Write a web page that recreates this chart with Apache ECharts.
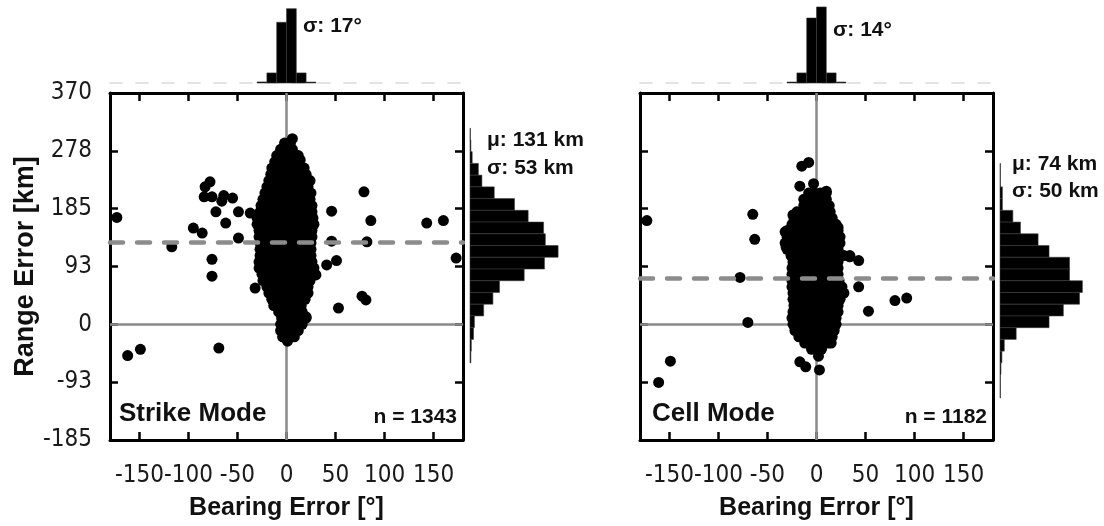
<!DOCTYPE html>
<html>
<head>
<meta charset="utf-8">
<script src="https://cdn.jsdelivr.net/npm/echarts@6/dist/echarts.min.js"></script>
<style>
html,body{margin:0;padding:0;background:#fff;}
#main{width:1104px;height:526px;}
</style>
</head>
<body>
<div id="main"></div>
<script>
// tick values
var bearingTicks = [-150, -100, -50, 0, 50, 100, 150];
var rangeMin = -185, rangeMax = 370, rangeStep = 92.5;
var bearingMin = -180, bearingMax = 180;

// scatter: scattered points [bearing, range]
var strikeOutliers = [
  [-173,171],[-162,-50],[-149,-40],[-69,-38],[-117,124],[-95,154],[-86,146],
  [-83,220],[-78,228],[-84,204],[-76,204],[-72,180],[-66,197],[-64,206],[-55,202],
  [-62,162],[-76,104],[-76,77],[-49,180],[-49,138],[-37,178],[-32,58],[-28,167],
  [46,181],[46,133],[41,95],[51,102],[53,26],[30,79],[20,12],[79,212],[86,166],
  [82,132],[77,45],[81,39],[143,162],[160,166],[173,106],[24,230],[14,263],
  [6,297],[3,290]
];
// dense core, row by row: [range, [bearings]]
var strikeCore = [
  [290,[-2,4]],[280,[-6,0,6]],[270,[-10,-4,2,8,12]],[260,[-12,-6,0,6,12]],
  [250,[-15,-9,-3,3,9,15,18]],[240,[-16,-10,-4,2,8,14,20]],
  [230,[-18,-12,-6,0,6,12,18,23]],[220,[-20,-14,-8,-2,4,10,16,22]],
  [210,[-22,-16,-10,-4,2,8,14,20,25]],[200,[-24,-18,-12,-6,0,6,12,18,24]],
  [190,[-26,-20,-14,-8,-2,4,10,16,22,26]],[180,[-27,-21,-15,-9,-3,3,9,15,21,26]],
  [170,[-30,-24,-18,-12,-6,0,6,12,18,24,27]],[160,[-30,-24,-18,-12,-6,0,6,12,18,24,28]],
  [150,[-28,-22,-16,-10,-4,2,8,14,20,26]],[140,[-28,-22,-16,-10,-4,2,8,14,20,26]],
  [130,[-27,-21,-15,-9,-3,3,9,15,21,25]],[120,[-27,-21,-15,-9,-3,3,9,15,21,25]],
  [110,[-27,-21,-15,-9,-3,3,9,15,21,25]],[100,[-28,-22,-16,-10,-4,2,8,14,20,26]],
  [90,[-28,-22,-16,-10,-4,2,8,14,20,26,28]],[80,[-25,-19,-13,-7,-1,5,11,17,23,29]],
  [70,[-24,-18,-12,-6,0,6,12,18,24]],[60,[-20,-14,-8,-2,4,10,16,22]],
  [50,[-18,-12,-6,0,6,12,18,22]],[40,[-15,-9,-3,3,9,15,19]],
  [30,[-13,-7,-1,5,11,15]],[20,[-8,-2,4,10,16]],[10,[-5,1,7,13,20]],
  [0,[-6,0,6,12,16]],[-10,[-6,0,6,12]],[-20,[-4,2,8]],[-27,[1]]
];
var cellOutliers = [
  [-173,166],[-149,-59],[-161,-93],[-65,176],[-63,136],[-78,75],[-70,3],
  [-24,175],[-32,148],[-31,124],[-17,221],[-15,253],[-8,259],[10,213],[-3,225],
  [22,155],[34,108],[43,102],[43,60],[53,21],[80,38],[92,42],[27,50],
  [3,-73],[-17,-60],[-11,-68],[-5,-38],[5,-38],[2,-51]
];
var cellCore = [
  [210,[-8,-2,4,10]],[200,[-13,-7,-1,5,10]],[190,[-13,-7,-1,5,11,13]],
  [180,[-20,-14,-8,-2,4,10,14]],[170,[-23,-17,-11,-5,1,7,13,16]],
  [160,[-25,-19,-13,-7,-1,5,11,17,20]],[150,[-30,-24,-18,-12,-6,0,6,12,18,22]],
  [140,[-30,-24,-18,-12,-6,0,6,12,18,24]],[130,[-32,-26,-20,-14,-8,-2,4,10,16,22,24]],
  [120,[-30,-24,-18,-12,-6,0,6,12,18,22]],[110,[-26,-20,-14,-8,-2,4,10,16,22,28,34]],
  [100,[-24,-18,-12,-6,0,6,12,18,22]],[90,[-25,-19,-13,-7,-1,5,11,17,22]],
  [80,[-25,-19,-13,-7,-1,5,11,17,22]],[70,[-25,-19,-13,-7,-1,5,11,17,23]],
  [60,[-25,-19,-13,-7,-1,5,11,17,23,26]],[50,[-24,-18,-12,-6,0,6,12,18,24,28]],
  [40,[-24,-18,-12,-6,0,6,12,18,24]],[30,[-23,-17,-11,-5,1,7,13,19,22]],
  [20,[-24,-18,-12,-6,0,6,12,18,22]],[10,[-25,-19,-13,-7,-1,5,11,17,20]],
  [0,[-24,-18,-12,-6,0,6,12,18,20]],[-10,[-22,-16,-10,-4,2,8,14,18]],
  [-20,[-18,-12,-6,0,6,12,16]],[-30,[-12,-6,0,6,12,15]],[-40,[-5,0,5]]
];

// bearing histograms (10° bins, start values)
var bearingBinStart = [-30, -20, -10, 0, 10, 20];
var bearingBinWidth = 10;
var strikeBearingCounts = [9, 86, 519, 635, 86, 8];
var cellBearingCounts = [7, 73, 471, 551, 73, 7];

// range histograms (18.5 km bins, start values)
var rangeBinWidth = 18.5;
var strikeRangeStart = [296, 277.5, 259, 240.5, 222, 203.5, 185, 166.5, 148, 129.5, 111, 92.5, 74, 55.5, 37, 18.5, 0, -18.5, -37, -55.5];
var strikeRangeCounts = [1, 2, 5, 19, 27, 55, 101, 132, 167, 171, 200, 169, 123, 67, 52, 31, 10, 8, 3, 2];
var cellRangeStart = [240.5, 222, 203.5, 185, 166.5, 148, 129.5, 111, 92.5, 74, 55.5, 37, 18.5, 0, -18.5, -37, -55.5, -74, -92.5, -111];
var cellRangeCounts = [1, 1, 5, 5, 27, 43, 80, 103, 146, 146, 173, 167, 133, 103, 34, 9, 4, 2, 1, 1];

var strikeMean = 131, cellMean = 74;

function buildPoints(outliers, rows) {
  var pts = outliers.slice();
  rows.forEach(function (r) {
    r[1].forEach(function (x) { pts.push([x, r[0]]); });
  });
  return pts;
}
function buildBins(starts, width, counts) {
  return starts.map(function (s, i) { return [s, s + width, counts[i]]; });
}

var labelFont = '"Liberation Sans Narrow", "DejaVu Sans Condensed", sans-serif';
var boldFont = '"Liberation Sans", Arial, sans-serif';
var barStyle = { fill: '#000', stroke: '#3a3a3a', lineWidth: 0.6 };

function topBar(params, api) {
  var p0 = api.coord([api.value(0), 0]);
  var p1 = api.coord([api.value(1), api.value(2)]);
  return { type: 'rect', shape: { x: p0[0], y: p1[1], width: p1[0] - p0[0], height: p0[1] - p1[1] }, style: barStyle };
}
function sideBar(params, api) {
  var p0 = api.coord([0, api.value(1)]);
  var p1 = api.coord([api.value(2), api.value(0)]);
  return { type: 'rect', shape: { x: p0[0], y: p0[1], width: p1[0] - p0[0], height: p1[1] - p0[1] }, style: barStyle };
}
function rangeLabel(v) {
  return (v < 0 ? '-' : '') + Math.round(Math.abs(v));
}

function panelAxes(showLabels, hasName) {
  var tick = { show: true, inside: true, length: 8, lineStyle: { color: '#000', width: 2.5 } };
  var line = { show: true, onZero: false, lineStyle: { color: '#000', width: 3 } };
  var xb = {
    type: 'value', min: bearingMin, max: bearingMax, position: 'bottom',
    axisLine: line, splitLine: { show: false },
    axisTick: Object.assign({ customValues: bearingTicks }, tick),
    axisLabel: { customValues: bearingTicks, margin: 24, fontFamily: labelFont, fontSize: 24, color: '#1a1a1a' },
    name: 'Bearing Error [°]', nameLocation: 'middle', nameGap: 56,
    nameTextStyle: { fontFamily: boldFont, fontWeight: 'bold', fontSize: 25, color: '#111' }
  };
  var xt = {
    type: 'value', min: bearingMin, max: bearingMax, position: 'top',
    axisLine: line, splitLine: { show: false },
    axisTick: Object.assign({ customValues: bearingTicks }, tick),
    axisLabel: { show: false }
  };
  var yl = {
    type: 'value', min: rangeMin, max: rangeMax, interval: rangeStep, position: 'left',
    axisLine: line, splitLine: { show: false }, axisTick: tick,
    axisLabel: { show: showLabels, margin: 18, formatter: rangeLabel, fontFamily: labelFont, fontSize: 24, color: '#1a1a1a' }
  };
  if (hasName) {
    yl.name = 'Range Error [km]';
    yl.nameLocation = 'middle';
    yl.nameGap = 60;
    yl.nameTextStyle = { fontFamily: boldFont, fontWeight: 'bold', fontSize: 27, color: '#111' };
  }
  var yr = {
    type: 'value', min: rangeMin, max: rangeMax, interval: rangeStep, position: 'right',
    axisLine: line, splitLine: { show: false }, axisTick: tick, axisLabel: { show: false }
  };
  return { x: [xb, xt], y: [yl, yr] };
}

var A = panelAxes(true, true);
var B = panelAxes(false, false);

function histTopX() {
  return { type: 'value', min: bearingMin, max: bearingMax, axisTick: { show: false }, axisLabel: { show: false }, splitLine: { show: false },
    axisLine: { show: true, onZero: false, lineStyle: { color: '#dadada', width: 1.5, type: [12, 14] } } };
}
function hiddenVal(min, max) {
  return { type: 'value', min: min, max: max, show: false, splitLine: { show: false } };
}

var grids = [
  { left: 110, top: 93, width: 353, height: 352 },
  { left: 110, top: 6, width: 353, height: 77 },
  { left: 470, top: 93, width: 100, height: 352 },
  { left: 640, top: 93, width: 353, height: 352 },
  { left: 640, top: 6, width: 353, height: 77 },
  { left: 1000, top: 93, width: 100, height: 352 }
];
function g(ax, i) { ax.gridIndex = i; return ax; }

var xAxes = [
  g(A.x[0], 0), g(A.x[1], 0), g(histTopX(), 1), g(hiddenVal(0, 227), 2),
  g(B.x[0], 3), g(B.x[1], 3), g(histTopX(), 4), g(hiddenVal(0, 210), 5)
];
var yAxes = [
  g(A.y[0], 0), g(A.y[1], 0), g(hiddenVal(0, 658), 1), g(hiddenVal(rangeMin, rangeMax), 2),
  g(B.y[0], 3), g(B.y[1], 3), g(hiddenVal(0, 558), 4), g(hiddenVal(rangeMin, rangeMax), 5)
];

function panelSeries(xi, yi, pts, mean, topBins, sideBins) {
  return [
    { type: 'scatter', xAxisIndex: xi, yAxisIndex: yi, data: [], silent: true,
      markLine: { z: 1, silent: true, symbol: ['none', 'none'], label: { show: false },
        lineStyle: { color: '#8a8a8a', width: 2.5, type: 'solid' }, data: [{ xAxis: 0 }, { yAxis: 0 }] } },
    { type: 'scatter', xAxisIndex: xi, yAxisIndex: yi, z: 3, symbolSize: 11, data: pts,
      itemStyle: { color: '#000', opacity: 1 } },
    { type: 'scatter', xAxisIndex: xi, yAxisIndex: yi, data: [], silent: true,
      markLine: { z: 10, silent: true, symbol: ['none', 'none'], label: { show: false },
        lineStyle: { color: '#8c8c8c', width: 4.5, type: [13, 14], cap: 'round' }, data: [{ yAxis: mean }] } },
    { type: 'custom', xAxisIndex: xi + 2, yAxisIndex: yi + 2, renderItem: topBar, data: topBins, encode: { x: [0, 1], y: 2 } },
    { type: 'custom', xAxisIndex: xi + 3, yAxisIndex: yi + 3, renderItem: sideBar, data: sideBins, encode: { x: 2, y: [0, 1] } }
  ];
}

var series = [].concat(
  panelSeries(0, 0, buildPoints(strikeOutliers, strikeCore), strikeMean,
    buildBins(bearingBinStart, bearingBinWidth, strikeBearingCounts),
    buildBins(strikeRangeStart, rangeBinWidth, strikeRangeCounts)),
  panelSeries(4, 4, buildPoints(cellOutliers, cellCore), cellMean,
    buildBins(bearingBinStart, bearingBinWidth, cellBearingCounts),
    buildBins(cellRangeStart, rangeBinWidth, cellRangeCounts))
);

function txt(text, x, y, size, align) {
  return { type: 'text', x: x, y: y, z: 20, style: { text: text, fill: '#111', align: align || 'left', verticalAlign: 'middle',
    font: 'bold ' + size + 'px "Liberation Sans", Arial, sans-serif' } };
}

var chart = echarts.init(document.getElementById('main'), null, { renderer: 'canvas' });
chart.setOption({
  animation: false,
  backgroundColor: '#fff',
  grid: grids,
  xAxis: xAxes,
  yAxis: yAxes,
  series: series,
  graphic: [
    txt('σ: 17°', 303, 26, 21),
    txt('σ: 14°', 833, 30, 21),
    txt('μ: 131 km', 487, 140, 21),
    txt('σ: 53 km', 487, 168, 21),
    txt('μ: 74 km', 1012, 164, 21),
    txt('σ: 50 km', 1012, 191, 21),
    txt('Strike Mode', 119, 414, 26),
    txt('n = 1343', 457, 417, 21, 'right'),
    txt('Cell Mode', 652, 414, 26),
    txt('n = 1182', 987, 417, 21, 'right')
  ]
});
</script>
</body>
</html>
